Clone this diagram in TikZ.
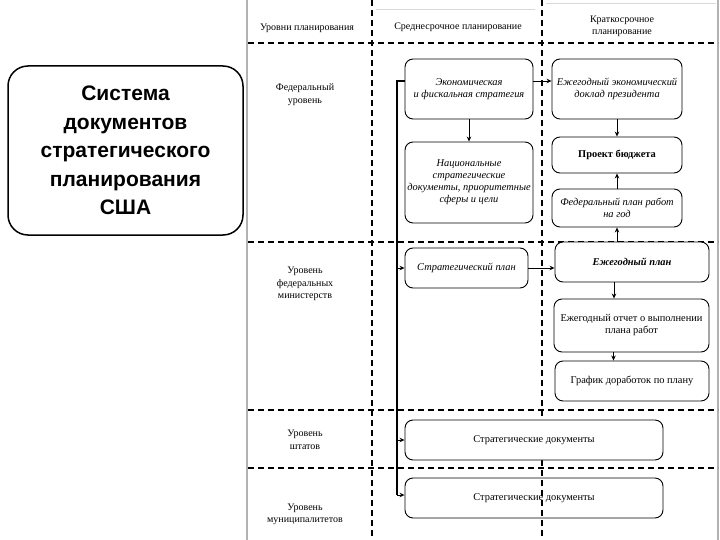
\documentclass[tikz,border=0pt]{standalone}
\usepackage{fontspec}
\setmainfont{Liberation Serif}
\newfontfamily\arialfont{Liberation Sans}
\usetikzlibrary{arrows.meta}
\begin{document}
\begin{tikzpicture}[x=1pt,y=-1pt,
  box/.style={draw, fill=white, line width=0.9pt, rounded corners=8pt, align=center, inner sep=0pt, font=\fontsize{10.4}{12}\selectfont},
  arr/.style={-{Stealth[length=5pt,width=4.5pt]}, line width=0.9pt},
  sep/.style={dash pattern=on 6pt off 4pt, line width=1.1pt},
  lbl/.style={align=center, font=\fontsize{10}{12.5}\selectfont},
  hdr/.style={align=center, font=\fontsize{10}{12}\selectfont}]
\useasboundingbox (0,0) rectangle (720,540);
% frame of embedded picture
\draw[gray!60, line width=2pt] (247,0) -- (247,540);
\draw[gray!60, line width=1.5pt] (718,0) -- (718,540);
\draw[gray!30, line width=0.6pt] (376,9) -- (535,9);
\draw[gray!30, line width=0.6pt] (546,3) -- (716,3);
% dashed separators
\draw[sep] (372,0) -- (372,540);
\draw[sep] (542,0) -- (542,540);
\draw[sep] (248,43) -- (718,43);
\draw[sep] (248,242) -- (718,242);
\draw[sep] (248,410) -- (718,410);
\draw[sep] (248,468) -- (718,468);
% title box
\node[draw, line width=1.5pt, rounded corners=20pt, minimum width=235pt, minimum height=169pt,
      align=center, font=\arialfont\bfseries\fontsize{21}{28.5}\selectfont] (title) at (125.5,150.5)
  {Система\\документов\\стратегического\\планирования\\США};
% headers
\node[hdr] (h1) at (307,28) {Уровни планирования};
\node[hdr] (h2) at (458,27) {Среднесрочное планирование};
\node[hdr] (h3) at (622,26) {Краткосрочное\\планирование};
% level labels
\node[lbl] (l1) at (305,94.5) {Федеральный\\уровень};
\node[lbl] (l2) at (305,284) {Уровень\\федеральных\\министерств};
\node[lbl] (l3) at (305,440) {Уровень\\штатов};
\node[lbl] (l4) at (305,514.5) {Уровень\\муниципалитетов};
% boxes
\node[box, minimum width=128pt, minimum height=60pt] (econ) at (469,89)
  {\itshape Экономическая\\\itshape и фискальная стратегия};
\node[box, minimum width=128pt, minimum height=81pt] (nat) at (469,182.5)
  {\itshape Национальные\\\itshape стратегические\\\itshape документы, приоритетные\\\itshape сферы и цели};
\node[box, minimum width=130pt, minimum height=60pt] (pres) at (617,89)
  {\itshape Ежегодный экономический\\\itshape доклад президента};
\node[box, minimum width=130pt, minimum height=36pt] (budget) at (617,155)
  {\bfseries Проект бюджета};
\node[box, minimum width=130pt, minimum height=38pt] (fedplan) at (617,208)
  {\itshape Федеральный план работ\\\itshape на год};
\node[box, minimum width=123pt, minimum height=40pt] (strat) at (466.5,268)
  {\itshape Стратегический план};
\node[box, minimum width=154pt, minimum height=40pt] (annual) at (632,262)
  {\bfseries\itshape Ежегодный план};
\node[box, minimum width=155pt, minimum height=53pt] (report) at (631.5,325.5)
  {Ежегодный отчет о выполнении\\плана работ};
\node[box, minimum width=154pt, minimum height=40pt] (graph) at (632,381)
  {График доработок по плану};
\node[box, minimum width=258pt, minimum height=40pt] (state) at (534,440)
  {Стратегические документы};
\node[box, fill=none, minimum width=258pt, minimum height=40pt] (muni) at (534,498)
  {Стратегические документы};
% connectors
\draw[arr] (econ.south) -- (econ.south |- nat.north);
\draw[arr] ([yshift=8pt]econ.east) -- ([yshift=8pt]econ.east -| pres.west);
\draw[arr] (pres.south) -- (budget.north);
\draw[arr] (fedplan.north) -- (budget.south);
\draw[arr] (annual.north -| fedplan.south) -- (fedplan.south);
\draw[arr] (strat.east |- 0,268) -- (annual.west |- 0,268);
\draw[arr] ([xshift=-18pt]annual.south) -- ([xshift=-18pt]annual.south |- report.north);
\draw[arr] ([xshift=-18pt]report.south) -- ([xshift=-18pt]report.south |- graph.north);
\coordinate (sp) at (397,495);
\draw[line width=1.3pt] ([yshift=8pt]econ.west) -| (sp);
\draw[arr] (sp) -- (sp -| muni.west);
\draw[arr] (sp |- strat.west) -- (strat.west);
\draw[arr] (sp |- state.west) -- (state.west);
\end{tikzpicture}
\end{document}
